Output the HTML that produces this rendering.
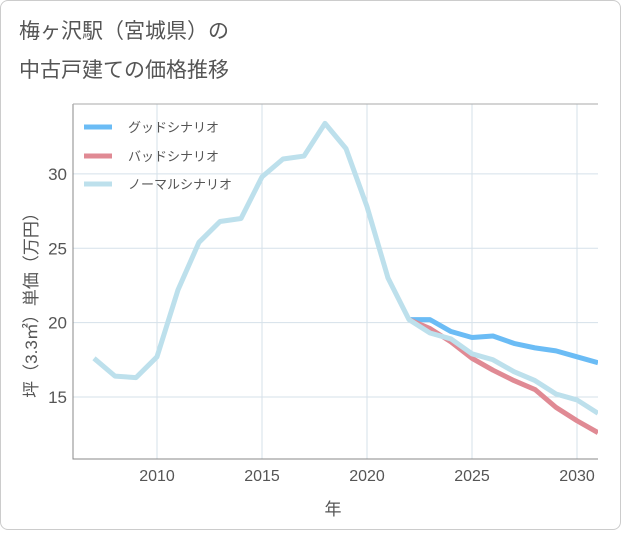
<!DOCTYPE html>
<html><head><meta charset="utf-8"><style>
body{margin:0;background:#fff;}
#card{position:absolute;left:0;top:0;width:619px;height:528px;border:1px solid #ccc;border-radius:8px;background:#fff;}
text{font-family:"Liberation Sans","Noto Sans CJK JP",sans-serif;}
</style></head><body>
<div id="card">
<svg id="chart" width="621" height="530">
<text x="18" y="37" font-size="21" fill="#555">梅ヶ沢駅（宮城県）の</text>
<text x="18" y="76" font-size="21" fill="#555">中古戸建ての価格推移</text>
<g id="grid"></g>
<path d="M72,103 L72,458 L597,458" fill="none" stroke="#888" stroke-width="1"/>
<line x1="72" y1="103" x2="597" y2="103" stroke="#aaa" stroke-width="1"/>
<g id="series"></g>
<g id="legend">
<line x1="83" y1="126" x2="111" y2="126" stroke="#6bbcf5" stroke-width="5"/>
<text x="127" y="131" font-size="13" fill="#555">グッドシナリオ</text>
<line x1="83" y1="155" x2="111" y2="155" stroke="#e08a94" stroke-width="5"/>
<text x="127" y="160" font-size="13" fill="#555">バッドシナリオ</text>
<line x1="83" y1="183" x2="111" y2="183" stroke="#bde0ec" stroke-width="5"/>
<text x="127" y="188" font-size="13" fill="#555">ノーマルシナリオ</text>
</g>
<text x="332" y="514" font-size="17" fill="#555" text-anchor="middle">年</text>
<text transform="translate(36,300) rotate(-90)" font-size="17" fill="#555" text-anchor="middle">坪（3.3㎡）単価（万円）</text>
</svg>
</div>
<script>
const years=[2007,2008,2009,2010,2011,2012,2013,2014,2015,2016,2017,2018,2019,2020,2021,2022,2023,2024,2025,2026,2027,2028,2029,2030,2031];
const normal=[17.6,16.4,16.3,17.7,22.2,25.4,26.8,27.0,29.8,31.0,31.2,33.4,31.7,27.8,23.0,20.2,19.3,18.9,17.9,17.5,16.7,16.1,15.2,14.8,13.9];
const goodYears=[2022,2023,2024,2025,2026,2027,2028,2029,2030,2031];
const good=[20.2,20.2,19.4,19.0,19.1,18.6,18.3,18.1,17.7,17.3];
const bad=[20.2,19.6,18.7,17.6,16.8,16.1,15.5,14.3,13.4,12.6];
const xTicks=[2010,2015,2020,2025,2030];
const yTicks=[15,20,25,30];
const NS='http://www.w3.org/2000/svg';
function X(v){return 156+(v-2010)*21;}
function Y(v){return 619-v*14.87;}
const grid=document.getElementById('grid');
const svg=document.getElementById('chart');
xTicks.forEach(t=>{
 const l=document.createElementNS(NS,'line');
 l.setAttribute('x1',X(t));l.setAttribute('x2',X(t));l.setAttribute('y1',103);l.setAttribute('y2',458);
 l.setAttribute('stroke','#d5e1ea');
 
 
 grid.appendChild(l);
 const tx=document.createElementNS(NS,'text');
 tx.setAttribute('x',X(t));tx.setAttribute('y',480);tx.setAttribute('font-size','16');tx.setAttribute('fill','#555');tx.setAttribute('text-anchor','middle');
 tx.textContent=t;
 
 
 grid.appendChild(tx);
});
yTicks.forEach(t=>{
 const l=document.createElementNS(NS,'line');
 l.setAttribute('x1',72);l.setAttribute('x2',597);l.setAttribute('y1',Y(t));l.setAttribute('y2',Y(t));
 l.setAttribute('stroke','#d5e1ea');
 
 
 grid.appendChild(l);
 const tx=document.createElementNS(NS,'text');
 tx.setAttribute('x',66);tx.setAttribute('y',Y(t)+6);tx.setAttribute('font-size','17');tx.setAttribute('fill','#555');tx.setAttribute('text-anchor','end');
 tx.textContent=t;
 
 
 grid.appendChild(tx);
});
const ser=document.getElementById('series');
function line(xs,vs,color,name){
 const p=document.createElementNS(NS,'polyline');
 p.setAttribute('points',xs.map((x,i)=>X(x)+','+Y(vs[i])).join(' '));
 p.setAttribute('fill','none');p.setAttribute('stroke',color);p.setAttribute('stroke-width','5');p.setAttribute('stroke-linejoin','round');
 
 
 ser.appendChild(p);
}
const clip=document.createElementNS(NS,'clipPath');clip.setAttribute('id','pc');
const cr=document.createElementNS(NS,'rect');cr.setAttribute('x',72);cr.setAttribute('y',103);cr.setAttribute('width',525);cr.setAttribute('height',355);
clip.appendChild(cr);svg.appendChild(clip);ser.setAttribute('clip-path','url(#pc)');
line(goodYears,good,'#6bbcf5','good-scenario-line');
line(goodYears,bad,'#e08a94','bad-scenario-line');
line(years,normal,'#bde0ec','normal-scenario-line');
</script>
</body></html>
